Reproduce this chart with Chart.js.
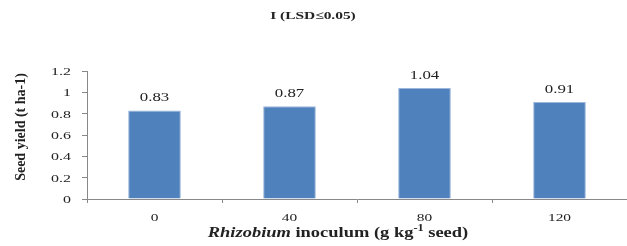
<!DOCTYPE html>
<html>
<head>
<meta charset="utf-8">
<script src="https://cdn.jsdelivr.net/npm/chart.js@4"></script>
<style>
  html, body { margin: 0; padding: 0; background: #fff; }
  #wrap { width: 627px; height: 246px; position: relative; }
</style>
</head>
<body>
<div id="wrap"><canvas id="bar_chart"></canvas></div>
<script>
// data
var categories = ["0", "40", "80", "120"];
var seedYield = [0.83, 0.87, 1.04, 0.91];
var yTicks = [0, 0.2, 0.4, 0.6, 0.8, 1, 1.2];

var serif = "'Liberation Serif', 'Times New Roman', serif";

// the source picture is stretched sideways, so text is drawn wider than normal
function wideText(ctx, text, x, y, font, sx, align) {
    ctx.save();
    ctx.font = font;
    var w = ctx.measureText(text).width * sx;
    var left = align === 'center' ? x - w / 2 : (align === 'right' ? x - w : x);
    ctx.translate(left, y);
    ctx.scale(sx, 1);
    ctx.textAlign = 'left';
    ctx.fillText(text, 0, 0);
    ctx.restore();
    return w;
}

var textPlugin = {
    id: 'texts',
    afterDatasetsDraw: function (chart) {
        var ctx = chart.ctx;
        var area = chart.chartArea;
        var xs = chart.scales.x, ys = chart.scales.y;
        ctx.save();
        ctx.fillStyle = '#222';
        ctx.textBaseline = 'alphabetic';

        // value labels
        chart.getDatasetMeta(0).data.forEach(function (bar, i) {
            wideText(ctx, seedYield[i].toFixed(2), bar.x, bar.y - 9, '12px ' + serif, 1.4, 'center');
        });

        // tick labels
        ys.ticks.forEach(function (t, i) {
            wideText(ctx, String(t.value), 71, ys.getPixelForTick(i) + 4, '11px ' + serif, 1.45, 'right');
        });
        xs.ticks.forEach(function (t, i) {
            wideText(ctx, categories[i], xs.getPixelForTick(i), 221, '11px ' + serif, 1.4, 'center');
        });

        // top title
        wideText(ctx, 'I (LSD\u22640.05)', 313, 19, 'bold 11px ' + serif, 1.4, 'center');

        // y title
        ctx.save();
        ctx.translate(25, 127);
        ctx.rotate(-Math.PI / 2);
        ctx.font = 'bold 14px ' + serif;
        ctx.textAlign = 'center';
        ctx.fillText('Seed yield (t ha-1)', 0, 0);
        ctx.restore();

        // x title with italic part and superscript
        var parts = [
            { t: 'Rhizobium', f: 'italic bold 15px ' + serif, dy: 0 },
            { t: ' inoculum (g kg', f: 'bold 15px ' + serif, dy: 0 },
            { t: '-1', f: 'bold 10px ' + serif, dy: -6 },
            { t: ' seed)', f: 'bold 15px ' + serif, dy: 0 }
        ];
        var sx = 1.23, total = 0;
        parts.forEach(function (p) { ctx.font = p.f; p.w = ctx.measureText(p.t).width * sx; total += p.w; });
        var x = 338 - total / 2;
        parts.forEach(function (p) {
            wideText(ctx, p.t, x, 237 + p.dy, p.f, sx, 'left');
            x += p.w;
        });
        ctx.restore();
    }
};

new Chart(document.getElementById('bar_chart').getContext('2d'), {
    type: 'bar',
    data: {
        labels: categories,
        datasets: [{
            data: seedYield,
            backgroundColor: '#4f81bd',
            borderColor: '#9db7dc',
            borderWidth: { left: 1, right: 1, top: 1, bottom: 0 },
            categoryPercentage: 1,
            barPercentage: 0.39
        }]
    },
    options: {
        responsive: true,
        maintainAspectRatio: false,
        animation: false,
        layout: { padding: { top: 71, left: 0, right: 0, bottom: 0 } },
        plugins: { legend: { display: false }, tooltip: { enabled: false } },
        scales: {
            x: {
                grid: { drawOnChartArea: false, offset: true, color: '#888', tickLength: 4 },
                border: { color: '#888' },
                ticks: { display: false },
                afterFit: function (s) { s.height = 47; }
            },
            y: {
                min: 0,
                max: 1.2,
                afterBuildTicks: function (s) { s.ticks = yTicks.map(function (v) { return { value: v }; }); },
                grid: { drawOnChartArea: false, color: '#888', tickLength: 5 },
                border: { color: '#888' },
                ticks: { display: false },
                afterFit: function (s) { s.width = 87; }
            }
        }
    },
    plugins: [textPlugin]
});
</script>
</body>
</html>
